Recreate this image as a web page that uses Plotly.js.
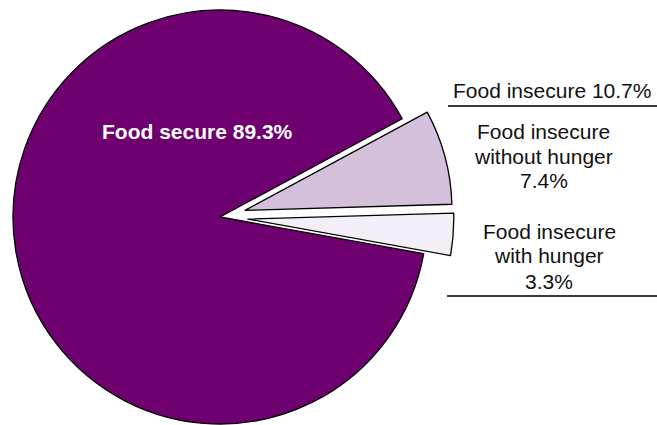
<!DOCTYPE html>
<html><head><meta charset="utf-8">
<script src="https://cdn.plot.ly/plotly-3.0.1.min.js"></script>
<style>html,body{margin:0;padding:0;background:#fff}#chart{width:657px;height:425px}</style>
</head><body><div id="chart"></div>
<script>
// ---- data ----
const categories = ['Food secure', 'Food insecure without hunger', 'Food insecure with hunger'];
const values = [89.3, 7.4, 3.3];
const groupLabel = 'Food insecure';
const groupValue = 10.7;
const sliceColors = ['#6E0070', '#D4C0DB', '#F4EEF6'];
const pulls = [0, 0.125, 0.135];

// ---- layout geometry ----
const W = 657, H = 425;
const CX = 220, CY = 217, R = 207;
const ROT = 100.2;
const total = values.reduce((a, b) => a + b, 0);

function midAngle(i) {
  let before = 0;
  for (let k = 0; k < i; k++) before += values[k];
  const cw = ROT + 360 * (before + values[i] / 2) / total;
  return (90 - cw) * Math.PI / 180;
}

const traces = values.map((v, i) => {
  const a = midAngle(i);
  const cx = CX + pulls[i] * R * Math.cos(a);
  const cy = CY - pulls[i] * R * Math.sin(a);
  const ry = Math.min(R, cy, H - cy);
  const xc = cx / W, yc = 1 - cy / H;
  return {
    type: 'pie',
    labels: categories,
    values: values,
    sort: false,
    direction: 'clockwise',
    rotation: ROT,
    textinfo: 'none',
    hoverinfo: 'none',
    showlegend: false,
    domain: {x: [xc - R / W, xc + R / W], y: [yc - ry / H, yc + ry / H]},
    marker: {
      colors: sliceColors.map((c, j) => j === i ? c : 'rgba(0,0,0,0)'),
      line: {color: '#000', width: sliceColors.map((c, j) => j === i ? 1.3 : 0)}
    }
  };
});

const fam = 'Arial, "Liberation Sans", sans-serif';
function ann(text, px, py, opts) {
  return Object.assign({
    text: text, x: px / W, y: 1 - py / H, xref: 'paper', yref: 'paper',
    xanchor: 'center', yanchor: 'middle', showarrow: false,
    font: {family: fam, size: 21, color: '#111'}
  }, opts || {});
}

const annotations = [
  ann(categories[0] + ' ' + values[0] + '%', 197, 131,
      {font: {family: fam, size: 21, color: '#fff', weight: 'bold'}}),
  ann(groupLabel + ' ' + groupValue + '%', 551.5, 90),
  ann('Food insecure', 543.5, 131),
  ann('without hunger', 543.5, 156),
  ann(values[1] + '%', 543.5, 180.5),
  ann('Food insecure', 549, 231),
  ann('with hunger', 549, 255.5),
  ann(values[2] + '%', 549, 281.5)
];

const shapes = [
  {type: 'line', xref: 'paper', yref: 'paper', x0: 448 / W, x1: 1, y0: 1 - 106 / H, y1: 1 - 106 / H,
   line: {color: '#3a3a3a', width: 2}},
  {type: 'line', xref: 'paper', yref: 'paper', x0: 447 / W, x1: 1, y0: 1 - 296 / H, y1: 1 - 296 / H,
   line: {color: '#3a3a3a', width: 2}}
];

Plotly.newPlot('chart', traces, {
  width: W, height: H,
  margin: {l: 0, r: 0, t: 0, b: 0, pad: 0},
  paper_bgcolor: '#fff', plot_bgcolor: '#fff',
  showlegend: false,
  annotations: annotations,
  shapes: shapes
}, {displayModeBar: false, staticPlot: true});
</script>
</body></html>
